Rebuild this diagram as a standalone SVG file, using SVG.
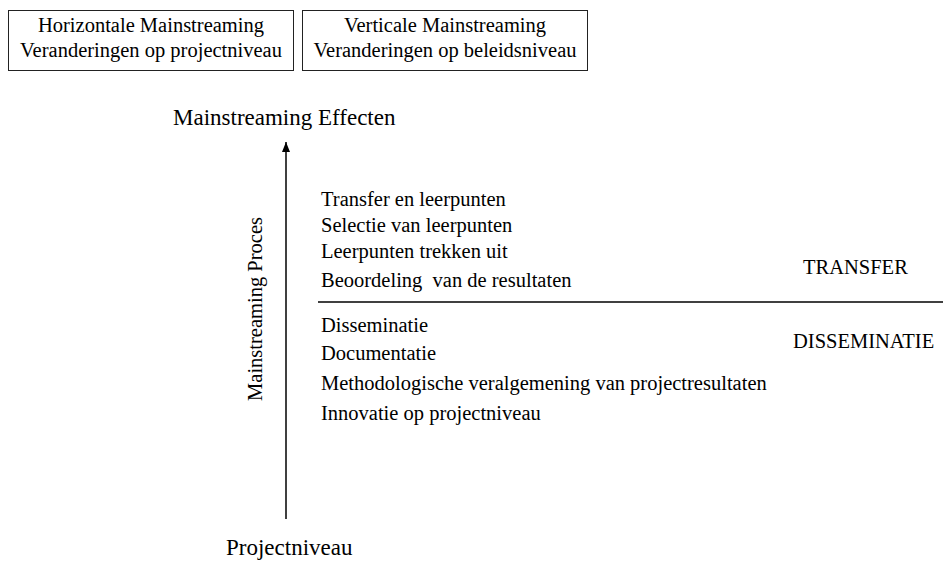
<svg xmlns="http://www.w3.org/2000/svg" width="943" height="561" viewBox="0 0 943 561">
<style>
text{font-family:"Liberation Serif","Times New Roman",serif;fill:#000;font-size:20.5px}
.box{fill:#fff;stroke:#222;stroke-width:1}
.c{text-anchor:middle}
.big{font-size:23px}
.ln{stroke:#000;stroke-width:1.5;fill:none}
</style>
<defs>
<marker id="ah" markerWidth="10" markerHeight="8" refX="10" refY="4" orient="auto" markerUnits="userSpaceOnUse">
<path d="M0,0 L10,4 L0,8 z" fill="#000"/>
</marker>
</defs>
<rect width="943" height="561" fill="#fff"/>
<g id="box-horizontaal">
<rect class="box" x="8.5" y="10.5" width="285" height="60"/>
<text class="c" x="151" y="32" font-size="20.3">Horizontale Mainstreaming</text>
<text class="c" x="151" y="57" font-size="20.3">Veranderingen op projectniveau</text>
</g>
<g id="box-verticaal">
<rect class="box" x="302.5" y="10.5" width="285" height="60"/>
<text class="c" x="445" y="32" font-size="20.3">Verticale Mainstreaming</text>
<text class="c" x="445" y="57" font-size="20.3">Veranderingen op beleidsniveau</text>
</g>
<g id="label-effecten">
<text class="big" x="173" y="125">Mainstreaming Effecten</text>
</g>
<g id="label-proces">
<text class="c" transform="translate(262,309) rotate(-90)" font-size="21.8">Mainstreaming Proces</text>
</g>
<g id="label-projectniveau">
<text class="big" x="226" y="555">Projectniveau</text>
</g>
<g id="transfer-items">
<text x="321" y="206">Transfer en leerpunten</text>
<text x="321" y="232">Selectie van leerpunten</text>
<text x="321" y="258">Leerpunten trekken uit</text>
<text x="321" y="287" xml:space="preserve">Beoordeling  van de resultaten</text>
</g>
<g id="transfer-label">
<text x="803" y="274">TRANSFER</text>
</g>
<g id="disseminatie-items">
<text x="321" y="332">Disseminatie</text>
<text x="321" y="360">Documentatie</text>
<text x="321" y="390">Methodologische veralgemening van projectresultaten</text>
<text x="321" y="420">Innovatie op projectniveau</text>
</g>
<g id="disseminatie-label">
<text x="793" y="348">DISSEMINATIE</text>
</g>
<g id="connectors">
<line class="ln" x1="286" y1="519" x2="286" y2="142" marker-end="url(#ah)"/>
<line x1="318" y1="302" x2="943" y2="302" stroke="#000" stroke-width="1.3"/>
</g>
</svg>
